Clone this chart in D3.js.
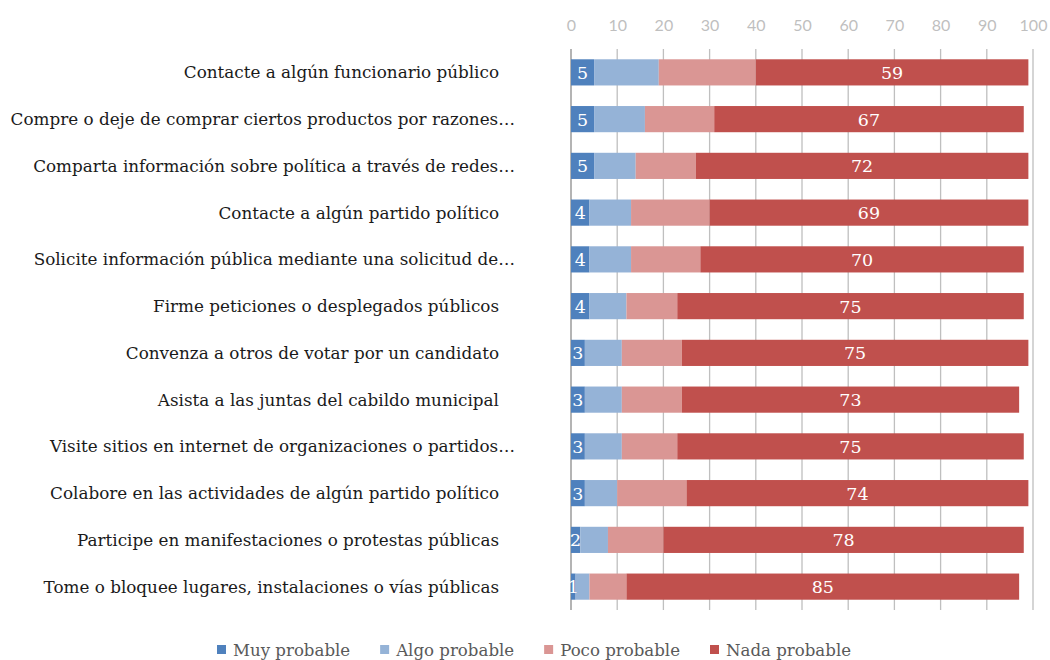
<!DOCTYPE html>
<html>
<head>
<meta charset="utf-8">
<script src="https://cdn.jsdelivr.net/npm/d3@7"></script>
<style>
  body { margin: 0; background: #fff; }
  svg { display: block; }
</style>
</head>
<body>
<svg id="chart"></svg>
<script>
// activities (top to bottom)
const activities = [
  "Contacte a algún funcionario público",
  "Compre o deje de comprar ciertos productos por razones…",
  "Comparta información sobre política a través de redes…",
  "Contacte a algún partido político",
  "Solicite información pública mediante una solicitud de…",
  "Firme peticiones o desplegados públicos",
  "Convenza a otros de votar por un candidato",
  "Asista a las juntas del cabildo municipal",
  "Visite sitios en internet de organizaciones o partidos…",
  "Colabore en las actividades de algún partido político",
  "Participe en manifestaciones o protestas públicas",
  "Tome o bloquee lugares, instalaciones o vías públicas"
];
const seriesNames = ["Muy probable", "Algo probable", "Poco probable", "Nada probable"];
const muyProbable = [5, 5, 5, 4, 4, 4, 3, 3, 3, 3, 2, 1];
const algoProbable = [14, 11, 9, 9, 9, 8, 8, 8, 8, 7, 6, 3];
const pocoProbable = [21, 15, 13, 17, 15, 11, 13, 13, 12, 15, 12, 8];
const nadaProbable = [59, 67, 72, 69, 70, 75, 75, 73, 75, 74, 78, 85];
const colors = ["#4f81bd", "#95b3d7", "#da9694", "#c0504d"];
const xTicks = d3.range(0, 101, 10);
// series that show their data labels
const labelled = ["Muy probable", "Nada probable"];

const W = 1050, H = 660;
const margin = { top: 49, right: 17, bottom: 50, left: 571 };
const width = W - margin.left - margin.right,
  height = H - margin.top - margin.bottom;

const svg = d3.select("#chart").attr("width", W).attr("height", H);
const g = svg.append("g").attr("transform", `translate(${margin.left},${margin.top})`);

const rows = activities.map((a, i) => ({
  activity: a,
  "Muy probable": muyProbable[i],
  "Algo probable": algoProbable[i],
  "Poco probable": pocoProbable[i],
  "Nada probable": nadaProbable[i]
}));

const xScale = d3.scaleLinear().domain([0, 100]).range([0, width]);
const yScale = d3.scaleBand().domain(activities).range([0, height]).paddingInner(0.44).paddingOuter(0.22);
const color = d3.scaleOrdinal().domain(seriesNames).range(colors);

// gridlines
g.append("g")
  .selectAll("line")
  .data(xTicks)
  .join("line")
  .attr("x1", (d) => xScale(d))
  .attr("x2", (d) => xScale(d))
  .attr("y1", 0)
  .attr("y2", height)
  .attr("stroke", (d) => (d === 0 ? "#8c8c8c" : "#bfbfbf"))
  .attr("stroke-width", 1.3);

// top axis labels
const xAxis = g.append("g")
  .attr("transform", "translate(0,-18)")
  .call(d3.axisTop(xScale).tickValues(xTicks).tickSize(0).tickPadding(0));
xAxis.select(".domain").remove();
xAxis.selectAll("text")
  .attr("fill", "#bfbfbf")
  .style("font-family", "Lato, 'Open Sans', sans-serif")
  .style("font-size", "16px");

// stacked bars
const stacked = d3.stack().keys(seriesNames)(rows);

const layers = g.append("g")
  .selectAll("g")
  .data(stacked)
  .join("g")
  .attr("fill", (d) => color(d.key));

layers.selectAll("rect")
  .data((d) => d)
  .join("rect")
  .attr("x", (d) => xScale(d[0]))
  .attr("y", (d) => yScale(d.data.activity))
  .attr("width", (d) => xScale(d[1]) - xScale(d[0]))
  .attr("height", yScale.bandwidth());

// data labels
const labelLayers = g.append("g")
  .selectAll("g")
  .data(stacked.filter((s) => labelled.includes(s.key)))
  .join("g");

labelLayers.selectAll("text")
  .data((d) => d.map((v) => ({ v, key: d.key })))
  .join("text")
  .attr("x", (d) => xScale((d.v[0] + d.v[1]) / 2))
  .attr("y", (d) => yScale(d.v.data.activity) + yScale.bandwidth() / 2)
  .attr("dy", "0.37em")
  .attr("text-anchor", "middle")
  .attr("fill", "#fff")
  .style("font-family", "'DejaVu Serif', serif")
  .style("font-size", "17.5px")
  .text((d) => d.v.data[d.key]);

// category labels
svg.append("g")
  .selectAll("text")
  .data(activities)
  .join("text")
  .attr("x", (d) => (d.endsWith("…") ? 515 : 499))
  .attr("y", (d) => margin.top + yScale(d) + yScale.bandwidth() / 2)
  .attr("dy", "0.35em")
  .attr("text-anchor", "end")
  .attr("fill", "#1a1a1a")
  .style("font-family", "'DejaVu Serif', serif")
  .style("font-size", "16.8px")
  .text((d) => d);

// legend
const legend = svg.append("g").attr("transform", "translate(217,650)");
let lx = 0;
seriesNames.forEach((name) => {
  const item = legend.append("g").attr("transform", `translate(${lx},0)`);
  item.append("rect")
    .attr("x", 0)
    .attr("y", -5)
    .attr("width", 9)
    .attr("height", 9)
    .attr("fill", color(name));
  const t = item.append("text")
    .attr("x", 16)
    .attr("dy", "0.35em")
    .attr("fill", "#595959")
    .style("font-family", "'DejaVu Serif', serif")
    .style("font-size", "16.6px")
    .text(name);
  lx += 16 + t.node().getComputedTextLength() + 30;
});
</script>
</body>
</html>
